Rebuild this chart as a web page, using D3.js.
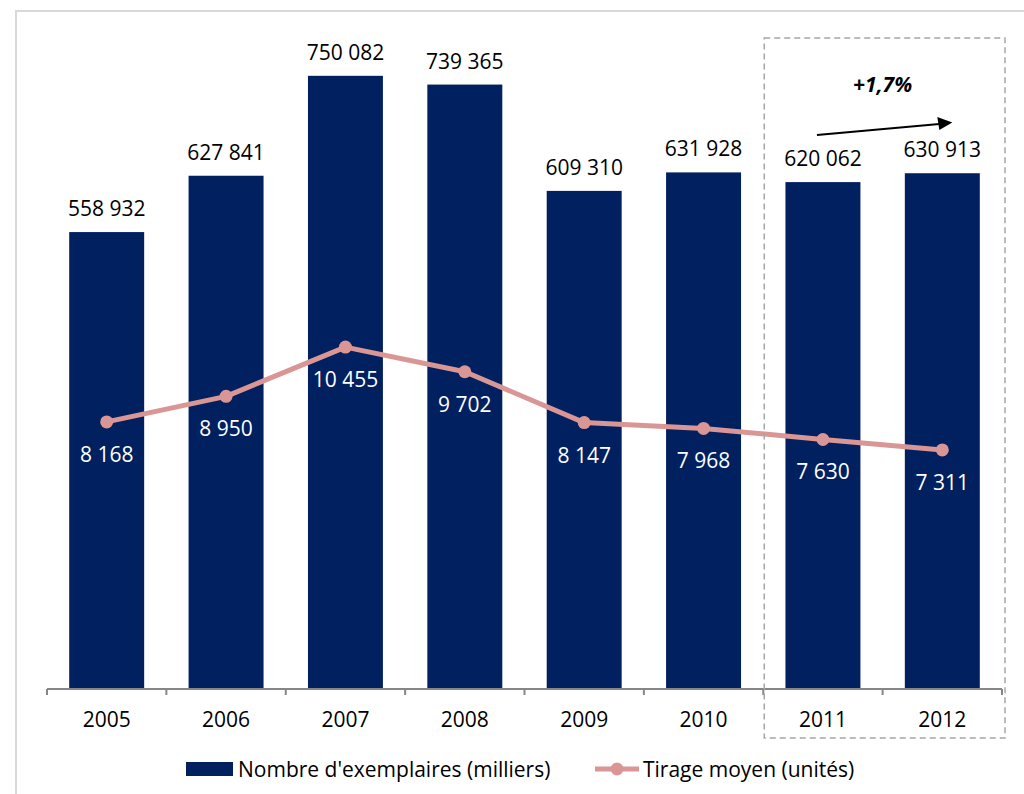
<!DOCTYPE html>
<html>
<head>
<meta charset="utf-8">
<script src="https://cdn.jsdelivr.net/npm/d3@7"></script>
<style>
  body { margin: 0; background: #fff; }
  svg text { font-family: "Open Sans", Lato, sans-serif; }
</style>
</head>
<body>
<div id="chart"></div>
<script>
var years = ["2005", "2006", "2007", "2008", "2009", "2010", "2011", "2012"];
var exemplaires = [558932, 627841, 750082, 739365, 609310, 631928, 620062, 630913];
var tirage = [8168, 8950, 10455, 9702, 8147, 7968, 7630, 7311];
var seriesNames = ["Nombre d'exemplaires (milliers)", "Tirage moyen (unités)"];
var highlightYears = ["2011", "2012"];
var evolutionLabel = "+1,7%";

(function() {
	var width = 1024, height = 794;
	var barColor = "#002060", lineColor = "#d99694";
	var fs = 21;

	var svg = d3.select("#chart")
		.append("svg")
		.attr("width", width)
		.attr("height", height)

	// light frame round the chart area
	svg.append("rect")
		.attr("x", 16).attr("y", 11)
		.attr("width", 1100).attr("height", 900)
		.attr("fill", "none")
		.attr("stroke", "#d9d9d9")
		.attr("stroke-width", 2)

	var x = d3.scaleBand().domain(years).range([47, 1002]).paddingInner(0.372).paddingOuter(0.186)
	var yBar = d3.scaleLinear().domain([0, 800000]).range([689, 35])
	var yLine = d3.scaleLinear().domain([0, 20000]).range([689, 35])

	var fmt = d3.formatLocale({decimal: ",", thousands: " ", grouping: [3], currency: ["", " €"]}).format(",d")

	var data = years.map(function(y, i) {
		return {year: y, ex: exemplaires[i], tir: tirage[i]}
	})

	// bars
	svg.selectAll(".bar")
		.data(data)
		.enter().append("rect")
		.attr("class", "bar")
		.attr("x", function(d) { return x(d.year) })
		.attr("width", x.bandwidth())
		.attr("y", function(d) { return yBar(d.ex) })
		.attr("height", function(d) { return yBar(0) - yBar(d.ex) })
		.attr("fill", barColor)

	svg.selectAll(".bar-label")
		.data(data)
		.enter().append("text")
		.attr("class", "bar-label")
		.attr("x", function(d) { return x(d.year) + x.bandwidth() / 2 })
		.attr("y", function(d) { return yBar(d.ex) - 16 })
		.attr("text-anchor", "middle")
		.attr("font-size", fs)
		.attr("fill", "#000")
		.text(function(d) { return fmt(d.ex) })

	// x axis with ticks between categories
	var axis = svg.append("g")
	axis.append("line")
		.attr("x1", 47).attr("x2", 1002)
		.attr("y1", 689).attr("y2", 689)
		.attr("stroke", "#868686").attr("stroke-width", 2)
	var step = x.step()
	axis.selectAll(".tick")
		.data(d3.range(years.length + 1))
		.enter().append("line")
		.attr("x1", function(i) { return 47 + i * step })
		.attr("x2", function(i) { return 47 + i * step })
		.attr("y1", 689).attr("y2", 695)
		.attr("stroke", "#868686").attr("stroke-width", 2)
	axis.selectAll(".cat")
		.data(years)
		.enter().append("text")
		.attr("x", function(d) { return x(d) + x.bandwidth() / 2 })
		.attr("y", 727)
		.attr("text-anchor", "middle")
		.attr("font-size", fs)
		.text(function(d) { return d })

	// line series
	var line = d3.line()
		.x(function(d) { return x(d.year) + x.bandwidth() / 2 })
		.y(function(d) { return yLine(d.tir) })

	svg.append("path")
		.datum(data)
		.attr("d", line)
		.attr("fill", "none")
		.attr("stroke", lineColor)
		.attr("stroke-width", 5)
		.attr("stroke-linejoin", "round")

	svg.selectAll(".dot")
		.data(data)
		.enter().append("circle")
		.attr("cx", function(d) { return x(d.year) + x.bandwidth() / 2 })
		.attr("cy", function(d) { return yLine(d.tir) })
		.attr("r", 6.5)
		.attr("fill", lineColor)

	svg.selectAll(".line-label")
		.data(data)
		.enter().append("text")
		.attr("x", function(d) { return x(d.year) + x.bandwidth() / 2 })
		.attr("y", function(d) { return yLine(d.tir) + 40 })
		.attr("text-anchor", "middle")
		.attr("font-size", fs)
		.attr("fill", "#fff")
		.text(function(d) { return fmt(d.tir) })

	// dashed highlight box over the last two years
	var hx0 = x(highlightYears[0]) - (step - x.bandwidth()) / 2
	var hx1 = x(highlightYears[1]) + x.bandwidth() + (step - x.bandwidth()) / 2
	svg.append("rect")
		.attr("x", hx0 + 1).attr("y", 38)
		.attr("width", hx1 - hx0 + 2).attr("height", 700)
		.attr("fill", "none")
		.attr("stroke", "#a6a6a6")
		.attr("stroke-width", 1.5)
		.attr("stroke-dasharray", "6,4")

	// trend arrow
	var a0 = x(highlightYears[0]) + x.bandwidth() / 2, a1 = x(highlightYears[1]) + x.bandwidth() / 2
	svg.append("line")
		.attr("x1", a0 - 6).attr("y1", 135)
		.attr("x2", a1 - 3).attr("y2", 124)
		.attr("stroke", "#000")
		.attr("stroke-width", 2)
	svg.append("path")
		.attr("d", "M" + (a1 - 5) + ",117L" + (a1 + 10) + ",122.5L" + (a1 - 3) + ",130Z")
		.attr("fill", "#000")

	svg.append("text")
		.attr("x", (a0 + a1) / 2)
		.attr("y", 92)
		.attr("text-anchor", "middle")
		.attr("font-size", fs)
		.attr("font-weight", "bold")
		.attr("font-style", "italic")
		.text(evolutionLabel)

	// legend
	var legend = svg.append("g")
	legend.append("rect")
		.attr("x", 186).attr("y", 762)
		.attr("width", 47).attr("height", 14)
		.attr("fill", barColor)
	legend.append("text")
		.attr("x", 238).attr("y", 777)
		.attr("font-size", fs)
		.text(seriesNames[0])
	legend.append("line")
		.attr("x1", 595).attr("x2", 639)
		.attr("y1", 769).attr("y2", 769)
		.attr("stroke", lineColor).attr("stroke-width", 5)
	legend.append("circle")
		.attr("cx", 617).attr("cy", 769).attr("r", 6.5)
		.attr("fill", lineColor)
	legend.append("text")
		.attr("x", 643).attr("y", 777)
		.attr("font-size", fs)
		.text(seriesNames[1])
})();
</script>
</body>
</html>
